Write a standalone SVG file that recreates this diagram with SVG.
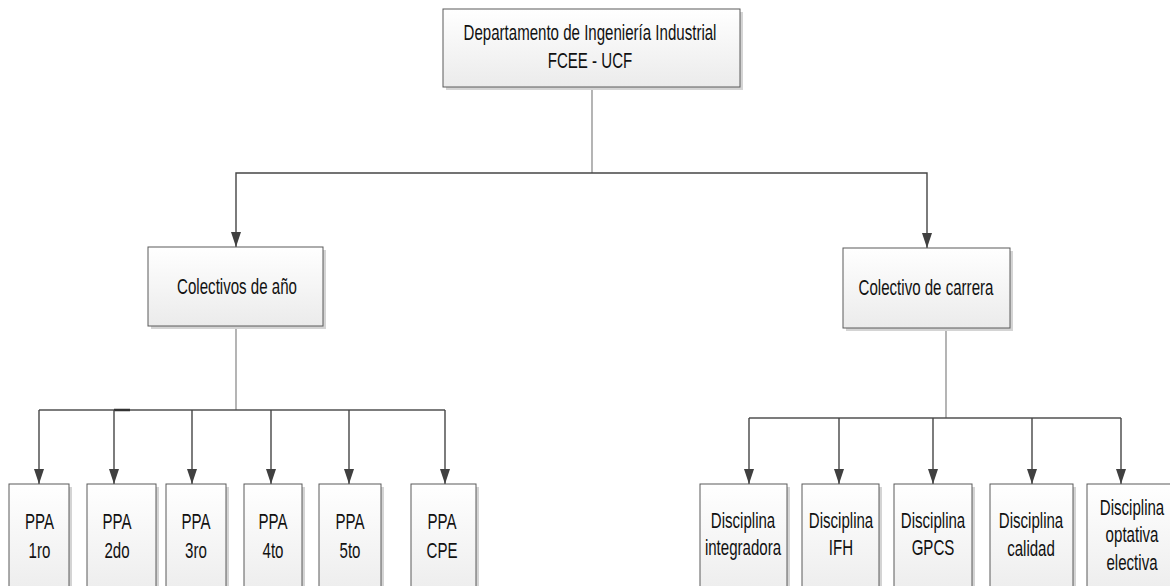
<svg xmlns="http://www.w3.org/2000/svg" width="1170" height="586" viewBox="0 0 1170 586">
<defs>
<linearGradient id="g" x1="0" y1="0" x2="0" y2="1">
<stop offset="0" stop-color="#ffffff"/>
<stop offset="1" stop-color="#ebebeb"/>
</linearGradient>
<marker id="arr" viewBox="0 0 15 10" refX="15" refY="5" markerWidth="15" markerHeight="10" markerUnits="userSpaceOnUse" orient="auto">
<path d="M0,0 L15,5 L0,10 z" fill="#404040"/>
</marker>
</defs>
<style>
.box{fill:url(#g);stroke:#5a5a5a;stroke-width:1}
.sh{fill:#d4d4d4}
.t{font-family:"Liberation Sans",Arial,sans-serif;font-size:22.5px;fill:#111;text-anchor:middle}
.c{fill:none;stroke:#505050;stroke-width:1.3}
.ca{fill:none;stroke:#454545;stroke-width:1.4;marker-end:url(#arr)}
.cl{fill:none;stroke:#777;stroke-width:1.1}
</style>
<rect width="1170" height="586" fill="#ffffff"/>

<g id="connectors">
<path class="cl" d="M592,87 V173"/>
<path class="ca" d="M592,173 H236 V247"/>
<path class="ca" d="M592,173 H927 V248"/>
<path class="cl" d="M236,326 V410"/>
<path class="c" d="M39,410 H445"/>
<path d="M114,410 H130" stroke="#333" stroke-width="2.5"/>
<path class="ca" d="M39,410 V484"/>
<path class="ca" d="M114,410 V484"/>
<path class="ca" d="M192,410 V484"/>
<path class="ca" d="M271,410 V484"/>
<path class="ca" d="M349,410 V484"/>
<path class="ca" d="M445,410 V484"/>
<path class="cl" d="M946,328 V418"/>
<path class="c" d="M749,418 H1121"/>
<path class="ca" d="M749,418 V484"/>
<path class="ca" d="M839,418 V484"/>
<path class="ca" d="M933,418 V484"/>
<path class="ca" d="M1032,418 V484"/>
<path class="ca" d="M1121,418 V484"/>
</g>

<g id="n-dept">
<rect class="sh" x="446" y="12" width="297" height="78"/>
<rect class="box" x="443" y="9" width="297" height="78"/>
<text class="t" transform="translate(590,40) scale(0.67,1)"><tspan x="0" y="0">Departamento de Ingeniería Industrial</tspan><tspan x="0" y="28">FCEE - UCF</tspan></text>
</g>

<g id="n-anio">
<rect class="sh" x="151" y="250" width="175" height="79"/>
<rect class="box" x="148" y="247" width="175" height="79"/>
<text class="t" transform="translate(237,294) scale(0.67,1)">Colectivos de año</text>
</g>

<g id="n-carrera">
<rect class="sh" x="846" y="251" width="167" height="80"/>
<rect class="box" x="843" y="248" width="167" height="80"/>
<text class="t" transform="translate(926,295) scale(0.67,1)">Colectivo de carrera</text>
</g>

<g id="n-ppa1">
<rect class="sh" x="12" y="487" width="60" height="120"/>
<rect class="box" x="9" y="484" width="60" height="120"/>
<text class="t" transform="translate(39.5,529) scale(0.67,1)"><tspan x="0" y="0">PPA</tspan><tspan x="0" y="29">1ro</tspan></text>
</g>
<g id="n-ppa2">
<rect class="sh" x="90" y="487" width="69" height="120"/>
<rect class="box" x="87" y="484" width="69" height="120"/>
<text class="t" transform="translate(117,529) scale(0.67,1)"><tspan x="0" y="0">PPA</tspan><tspan x="0" y="29">2do</tspan></text>
</g>
<g id="n-ppa3">
<rect class="sh" x="169" y="487" width="60" height="120"/>
<rect class="box" x="166" y="484" width="60" height="120"/>
<text class="t" transform="translate(196,529) scale(0.67,1)"><tspan x="0" y="0">PPA</tspan><tspan x="0" y="29">3ro</tspan></text>
</g>
<g id="n-ppa4">
<rect class="sh" x="247" y="487" width="58" height="120"/>
<rect class="box" x="244" y="484" width="58" height="120"/>
<text class="t" transform="translate(273,529) scale(0.67,1)"><tspan x="0" y="0">PPA</tspan><tspan x="0" y="29">4to</tspan></text>
</g>
<g id="n-ppa5">
<rect class="sh" x="322" y="487" width="62" height="120"/>
<rect class="box" x="319" y="484" width="62" height="120"/>
<text class="t" transform="translate(350,529) scale(0.67,1)"><tspan x="0" y="0">PPA</tspan><tspan x="0" y="29">5to</tspan></text>
</g>
<g id="n-ppacpe">
<rect class="sh" x="414" y="487" width="65" height="120"/>
<rect class="box" x="411" y="484" width="65" height="120"/>
<text class="t" transform="translate(442,529) scale(0.67,1)"><tspan x="0" y="0">PPA</tspan><tspan x="0" y="29">CPE</tspan></text>
</g>

<g id="n-integradora">
<rect class="sh" x="703" y="487" width="87" height="120"/>
<rect class="box" x="700" y="484" width="87" height="120"/>
<text class="t" transform="translate(743,528) scale(0.67,1)"><tspan x="0" y="0">Disciplina</tspan><tspan x="0" y="27">integradora</tspan></text>
</g>
<g id="n-ifh">
<rect class="sh" x="805" y="487" width="77" height="120"/>
<rect class="box" x="802" y="484" width="77" height="120"/>
<text class="t" transform="translate(841,528) scale(0.67,1)"><tspan x="0" y="0">Disciplina</tspan><tspan x="0" y="27">IFH</tspan></text>
</g>
<g id="n-gpcs">
<rect class="sh" x="897" y="487" width="78" height="120"/>
<rect class="box" x="894" y="484" width="78" height="120"/>
<text class="t" transform="translate(933,528) scale(0.67,1)"><tspan x="0" y="0">Disciplina</tspan><tspan x="0" y="27">GPCS</tspan></text>
</g>
<g id="n-calidad">
<rect class="sh" x="993" y="487" width="83" height="120"/>
<rect class="box" x="990" y="484" width="83" height="120"/>
<text class="t" transform="translate(1031,528) scale(0.67,1)"><tspan x="0" y="0">Disciplina</tspan><tspan x="0" y="28">calidad</tspan></text>
</g>
<g id="n-optativa">
<rect class="sh" x="1090" y="487" width="91" height="120"/>
<rect class="box" x="1087" y="484" width="91" height="120"/>
<text class="t" transform="translate(1132,515) scale(0.67,1)"><tspan x="0" y="0">Disciplina</tspan><tspan x="0" y="27">optativa</tspan><tspan x="0" y="55">electiva</tspan></text>
</g>
</svg>
